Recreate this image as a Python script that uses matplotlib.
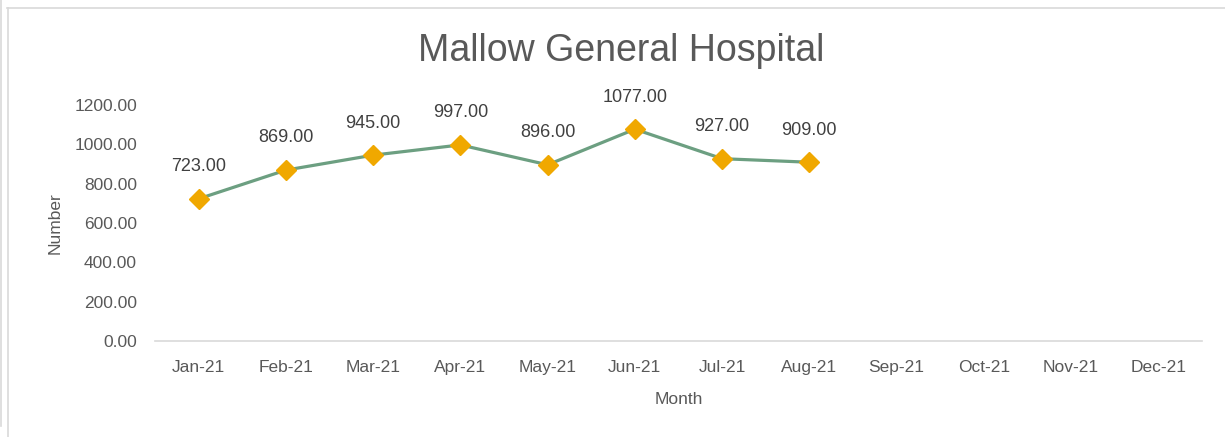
import matplotlib
matplotlib.use("Agg")
import matplotlib.pyplot as plt
from matplotlib.lines import Line2D

# monthly counts, Mallow General Hospital 2021 (Sep-Dec not yet reported)
months = ["Jan-21", "Feb-21", "Mar-21", "Apr-21", "May-21", "Jun-21",
          "Jul-21", "Aug-21", "Sep-21", "Oct-21", "Nov-21", "Dec-21"]
values = [723, 869, 945, 997, 896, 1077, 927, 909]
yticks = [0, 200, 400, 600, 800, 1000, 1200]

text_col = "#595959"
plt.rcParams["font.family"] = ["Liberation Sans", "DejaVu Sans"]

fig = plt.figure(figsize=(12.25, 4.37), dpi=100)
ax = fig.add_axes([155 / 1225, 96 / 437, 1047 / 1225, 236 / 437])

x = list(range(len(values)))
ax.plot(x, values, color="#6C9F81", lw=2.3, marker="D", markersize=10,
        markerfacecolor="#F0A800", markeredgecolor="#F0A800", zorder=3)
for xi, v in zip(x, values):
    ax.annotate(f"{v:.2f}", (xi, v), xytext=(0, 17), textcoords="offset points",
                ha="center", va="bottom", fontsize=13, color="#404040")

ax.set_xlim(-0.5, len(months) - 0.5)
ax.set_ylim(0, 1200)
ax.set_xticks(range(len(months)))
ax.set_xticklabels(months)
ax.set_yticks(yticks)
ax.set_yticklabels([f"{t:.2f}" for t in yticks])
ax.tick_params(length=0, labelsize=12.5, labelcolor=text_col, pad=14)
ax.tick_params(axis="y", pad=13)
for s in ["top", "right", "left"]:
    ax.spines[s].set_visible(False)
ax.spines["bottom"].set_color("#D9D9D9")
ax.spines["bottom"].set_linewidth(1.2)

ax.set_xlabel("Month", fontsize=12.5, color=text_col)
ax.xaxis.set_label_coords(0.5, -51 / 236)
ax.set_ylabel("Number", fontsize=12.5, color=text_col)
ax.yaxis.set_label_coords(-92 / 1047, 0.5)

fig.text(621 / 1225, 1 - 51 / 437, "Mallow General Hospital", ha="center",
         va="center", fontsize=27, color=text_col)

# chart frame edges (light gray)
fig.add_artist(Line2D([7 / 1225, 1], [1 - 7.5 / 437, 1 - 7.5 / 437],
                      color="#D9D9D9", lw=1.2, transform=fig.transFigure))
fig.add_artist(Line2D([7.5 / 1225, 7.5 / 1225], [0, 1 - 7.5 / 437],
                      color="#D9D9D9", lw=1.2, transform=fig.transFigure))
fig.add_artist(Line2D([1 / 1225, 1 / 1225], [1 - 426 / 437, 1],
                      color="#D9D9D9", lw=1.2, transform=fig.transFigure))

fig.savefig("out.png", dpi=100, facecolor="white")
